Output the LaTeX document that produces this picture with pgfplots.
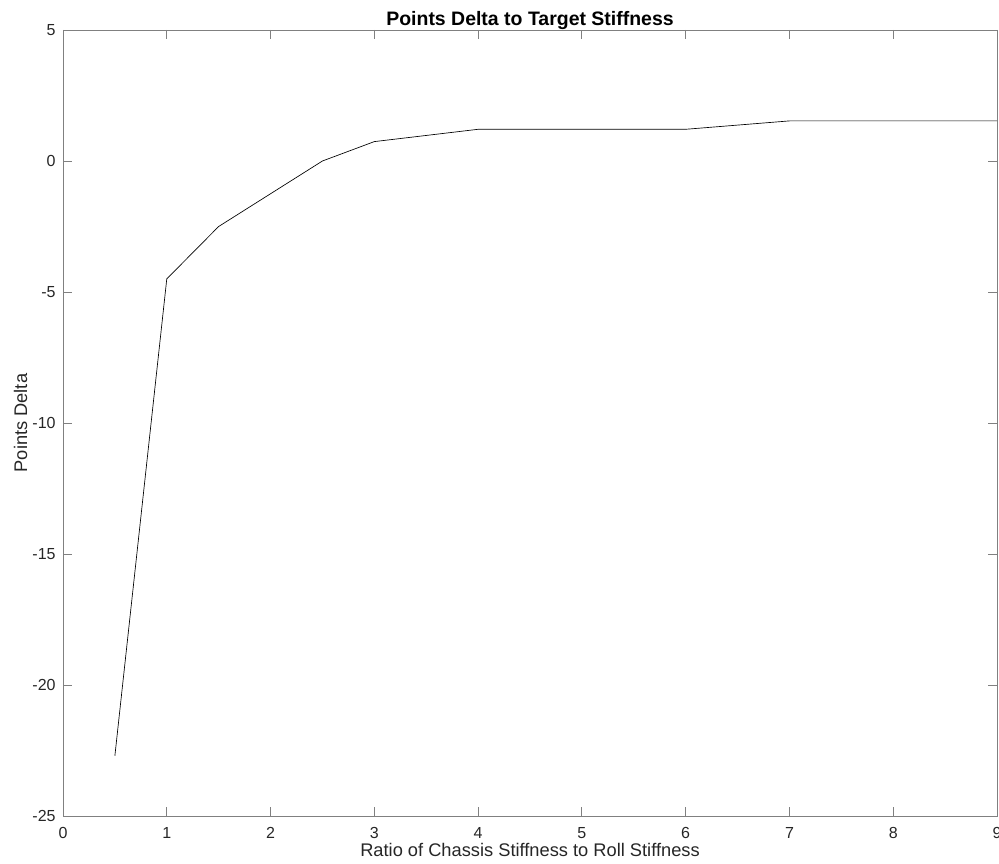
\documentclass[border=0pt]{standalone}
\usepackage{pgfplots}
\pgfplotsset{compat=1.18}
\usepackage{fontspec}
\setmainfont{Liberation Sans}
\usetikzlibrary{calc}
\definecolor{axgray}{RGB}{128,128,128}
\definecolor{txtgray}{RGB}{38,38,38}
\begin{document}
\begin{tikzpicture}
\begin{axis}[
  scale only axis,
  width=700.5pt, height=589.5pt,
  xmin=0, xmax=9, ymin=-25, ymax=5,
  xtick={0,1,...,9},
  ytick={-25,-20,-15,-10,-5,0,5},
  yticklabels={-25,-20,-15,-10,-5,0,5},
  tick align=inside, xtick pos=both, ytick pos=both,
  major tick length=7pt,
  axis line style={axgray, line width=0.6pt},
  tick style={axgray, line width=0.6pt},
  /pgf/number format/assume math mode=true,
  tick label style={font=\fontsize{12}{14}\selectfont, text=txtgray},
  xticklabel style={anchor=base, yshift=-17pt},
  yticklabel style={xshift=-2pt},
  label style={font=\fontsize{13.7}{16}\selectfont, text=txtgray},
  xlabel={Ratio of Chassis Stiffness to Roll Stiffness},
  ylabel={Points Delta},
  xlabel style={at={(axis description cs:0.5,-0.0509)}, anchor=base},
  ylabel style={at={(axis description cs:-0.0385,0.5)}, anchor=base},
  title={\textbf{Points Delta to Target Stiffness}},
  every axis title shift=0pt,
  title style={font=\fontsize{14.6}{17}\selectfont, at={(axis description cs:0.5,1.0051)}, anchor=base},
]
\addplot[black, line width=0.5pt] coordinates {
  (0.5,-22.7) (1,-4.5) (1.5,-2.5) (2,-1.25) (2.5,0) (3,0.74)
  (4,1.21) (5,1.21) (6,1.21) (7,1.53) (8,1.53) (9,1.53)
};
\end{axis}
\pgfresetboundingbox
\useasboundingbox ($(current axis.south west)+(-47.25pt,-35.25pt)$) rectangle ($(current axis.north east)+(1.5pt,22.5pt)$);
\end{tikzpicture}
\end{document}
